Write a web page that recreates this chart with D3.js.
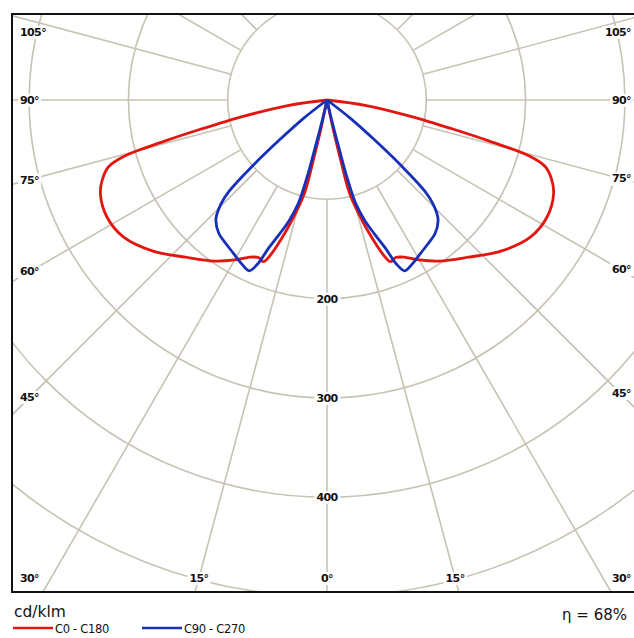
<!DOCTYPE html>
<html>
<head>
<meta charset="utf-8">
<title>Polar intensity diagram</title>
<script src="https://d3js.org/d3.v7.min.js"></script>
<style>
  body { margin: 0; background: #fff; }
  text { font-family: "DejaVu Sans", Verdana, sans-serif; fill: #111; }
</style>
</head>
<body>
<div id="chart"></div>
<script>
// grid
var rings = [100, 200, 300, 400, 500, 600];
var ringLabels = [200, 300, 400];
var spokes = [-135, -120, -105, -90, -75, -60, -45, -30, -15, 0, 15, 30, 45, 60, 75, 90, 105, 120, 135];
var spokeLabels = [-105, -90, -75, -60, -45, -30, -15, 0, 15, 30, 45, 60, 75, 90, 105];

// C0 - C180 (red), gamma in degrees from nadir, cd/klm
var c0Angles = [84, 82, 79, 77, 75.8, 74.5, 73, 70.5, 67.5, 62, 56, 49, 42, 35, 30, 26.5, 23.5, 21.5, 20, 17.5, 15.5, 13.5, 12.8, 12, 10];
var c0Values = [0, 40, 85, 130, 168, 212, 230, 240, 247, 251, 247, 232, 213, 198, 186, 177, 173, 175, 166, 140, 118, 95, 60, 30, 0];

// C90 - C270 (blue)
var c90Angles = [55, 52, 50, 48.5, 47, 45.5, 43, 39, 35, 31.3, 27.5, 24.5, 23, 21.5, 19.5, 17.5, 15.5, 14.5, 14, 13, 11];
var c90Values = [0, 30, 62, 100, 135, 150, 164, 173, 177, 181, 186, 189, 180, 160, 143, 128, 108, 80, 50, 20, 0];

var seriesNames = ["C0 - C180", "C90 - C270"];
var seriesColors = ["#e3150f", "#1730b8"];
var unit = "cd/klm";
var efficiency = "\u03b7 = 68%";

var width = 634, height = 638;
var cx = 327, cy = 100;
var frame = {left: 12, top: 14, right: 660, bottom: 592};
var inset = {left: 30, right: 620, top: 32, bottom: 578};

var r = d3.scaleLinear().domain([0, 500]).range([0, 496.5]);
function rad(g) { return g * Math.PI / 180; }

var svg = d3.select("#chart").append("svg")
    .attr("width", width)
    .attr("height", height);

svg.append("clipPath").attr("id", "clip")
  .append("rect")
    .attr("x", frame.left).attr("y", frame.top)
    .attr("width", frame.right - frame.left)
    .attr("height", frame.bottom - frame.top);

var grid = svg.append("g").attr("clip-path", "url(#clip)")
    .attr("fill", "none")
    .attr("stroke", "#c7c2b4")
    .attr("stroke-width", 1.6);

grid.selectAll("circle").data(rings).enter().append("circle")
    .attr("cx", cx).attr("cy", cy)
    .attr("r", function(d) { return r(d); });

grid.selectAll("line").data(spokes).enter().append("line")
    .attr("x1", function(d) { return cx + r(100) * Math.sin(rad(d)); })
    .attr("y1", function(d) { return cy + r(100) * Math.cos(rad(d)); })
    .attr("x2", function(d) { return cx + r(900) * Math.sin(rad(d)); })
    .attr("y2", function(d) { return cy + r(900) * Math.cos(rad(d)); });

// labels with white boxes
var labels = svg.append("g")
    .attr("font-size", "11px")
    .attr("font-weight", "bold")
    .attr("letter-spacing", "-0.6px");

function boxed(x, y, txt, anchor) {
  var t = labels.append("text")
      .attr("x", x).attr("y", y).attr("dy", "0.36em")
      .attr("text-anchor", anchor)
      .text(txt);
  var b = t.node().getBBox();
  labels.insert("rect", "text")
      .attr("x", b.x - 2).attr("y", b.y)
      .attr("width", b.width + 4).attr("height", b.height)
      .attr("fill", "#fff");
}

spokeLabels.forEach(function(s) {
  var a = Math.abs(s), txt = a + "\u00b0";
  if (a >= 30) {
    var xe = s < 0 ? inset.left : inset.right;
    var y = cy + Math.abs(xe - cx) * Math.cos(rad(a)) / Math.sin(rad(a));
    y = Math.max(inset.top, Math.min(inset.bottom, y));
    if (s < 0) boxed(frame.left + 8, y, txt, "start");
    else boxed(631, y, txt, "end");
  } else {
    var x = cx + (inset.bottom - cy) * Math.tan(rad(s));
    boxed(x, inset.bottom, txt, "middle");
  }
});

ringLabels.forEach(function(v) {
  boxed(cx, cy + r(v), v, "middle");
});

// curves
var line = d3.lineRadial()
    .curve(d3.curveCatmullRom.alpha(0.5))
    .angle(function(d) { return d[0]; })
    .radius(function(d) { return r(d[1]); });

var curves = svg.append("g")
    .attr("transform", "translate(" + cx + "," + cy + ")")
    .attr("fill", "none")
    .attr("stroke-width", 2.8)
    .attr("stroke-linejoin", "round");

[[c0Angles, c0Values], [c90Angles, c90Values]].forEach(function(s, k) {
  [1, -1].forEach(function(side) {
    var pts = s[0].map(function(g, i) { return [Math.PI - side * rad(g), s[1][i]]; });
    curves.append("path")
        .attr("d", line(pts))
        .attr("stroke", seriesColors[k]);
  });
});

// frame
svg.append("rect")
    .attr("x", frame.left).attr("y", frame.top)
    .attr("width", frame.right - frame.left)
    .attr("height", frame.bottom - frame.top)
    .attr("fill", "none")
    .attr("stroke", "#111")
    .attr("stroke-width", 2);

// footer
svg.append("text")
    .attr("x", 14).attr("y", 617)
    .attr("font-size", "15.5px")
    .text(unit);

svg.append("text")
    .attr("x", 627).attr("y", 620)
    .attr("text-anchor", "end")
    .attr("font-size", "15px")
    .text(efficiency);

var legendX = [13, 142];
seriesNames.forEach(function(n, k) {
  svg.append("line")
      .attr("x1", legendX[k]).attr("x2", legendX[k] + 40)
      .attr("y1", 628).attr("y2", 628)
      .attr("stroke", seriesColors[k])
      .attr("stroke-width", 2.5);
  svg.append("text")
      .attr("x", legendX[k] + 42).attr("y", 633)
      .attr("font-size", "11.5px")
      .attr("letter-spacing", "-0.3px")
      .text(n);
});
</script>
</body>
</html>
